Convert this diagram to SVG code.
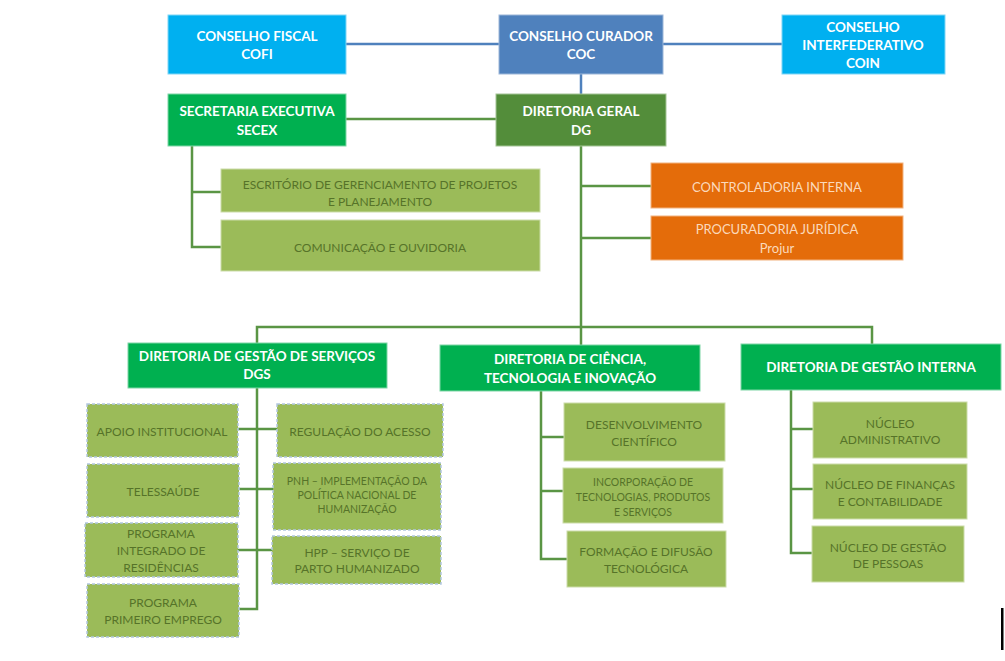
<svg xmlns="http://www.w3.org/2000/svg" width="1005" height="661" viewBox="0 0 1005 661">
<style>
text{font-family:Lato,"Open Sans","Liberation Sans",sans-serif;text-anchor:middle;dominant-baseline:central}
.hd{font-weight:bold;font-size:13.5px;fill:#ffffff}
.lt{font-size:12px;fill:#567329}
.sm{font-size:10.5px;fill:#567329}
.or{font-size:13px;fill:#fbd9bb}
.blue{fill:#00b0f0;stroke:#7fd6f6;stroke-width:1}
.coc{fill:#4f81bd;stroke:#9cb6d8;stroke-width:1}
.g1{fill:#00b050;stroke:#7fd6a6;stroke-width:1}
.g2{fill:#538d3a;stroke:#a4c495;stroke-width:1}
.lg{fill:#9bbb59;stroke:#cbdca9;stroke-width:1}
.lgd{fill:#9bbb59;stroke:#b3c8e0;stroke-width:1.5;stroke-dasharray:3 2}
.orb{fill:#e46c0a;stroke:#f2b27f;stroke-width:1}
.cb{stroke:#4f81bd;stroke-width:2.5;fill:none}
.cg{stroke:#5a9544;stroke-width:2.5;fill:none}
</style>
<rect width="1005" height="661" fill="#ffffff"/>
<g id="connectors">
<line class="cb" x1="346" y1="44" x2="499" y2="44"/>
<line class="cb" x1="663" y1="44" x2="782" y2="44"/>
<line class="cb" x1="581" y1="74" x2="581" y2="94"/>
<line class="cg" x1="346" y1="119" x2="496" y2="119"/>
<polyline class="cg" points="192,146 192,247 221,247"/>
<line class="cg" x1="192" y1="192" x2="221" y2="192"/>
<line class="cg" x1="581" y1="146" x2="581" y2="328"/>
<line class="cg" x1="581" y1="186" x2="651" y2="186"/>
<line class="cg" x1="581" y1="238" x2="651" y2="238"/>
<polyline class="cg" points="257,343 257,327 872,327 872,344"/>
<line class="cg" x1="581" y1="327" x2="581" y2="345"/>
<polyline class="cg" points="257,388 257,609 239,609"/>
<line class="cg" x1="238" y1="429" x2="277" y2="429"/>
<line class="cg" x1="239" y1="489" x2="273" y2="489"/>
<line class="cg" x1="238" y1="550" x2="272" y2="550"/>
<polyline class="cg" points="541,391 541,559 567,559"/>
<line class="cg" x1="541" y1="437" x2="564" y2="437"/>
<line class="cg" x1="541" y1="491" x2="563" y2="491"/>
<polyline class="cg" points="791,390 791,553 812,553"/>
<line class="cg" x1="791" y1="429" x2="813" y2="429"/>
<line class="cg" x1="791" y1="489" x2="813" y2="489"/>
</g>
<g id="cofi"><rect class="blue" x="168" y="15" width="178" height="59"/><text class="hd" x="257" y="36">CONSELHO FISCAL</text><text class="hd" x="257" y="54">COFI</text></g>
<g id="coc"><rect class="coc" x="499" y="15" width="164" height="59"/><text class="hd" x="581" y="36">CONSELHO CURADOR</text><text class="hd" x="581" y="54">COC</text></g>
<g id="coin"><rect class="blue" x="782" y="15" width="163" height="59"/><text class="hd" x="863" y="27">CONSELHO</text><text class="hd" x="863" y="45">INTERFEDERATIVO</text><text class="hd" x="863" y="63">COIN</text></g>
<g id="secex"><rect class="g1" x="168" y="94" width="178" height="52"/><text class="hd" x="257" y="111">SECRETARIA EXECUTIVA</text><text class="hd" x="257" y="130">SECEX</text></g>
<g id="dg"><rect class="g2" x="496" y="94" width="170" height="52"/><text class="hd" x="581" y="111">DIRETORIA GERAL</text><text class="hd" x="581" y="130">DG</text></g>
<g id="escritorio"><rect class="lg" x="221" y="169" width="319" height="43"/><text class="lt" x="380" y="184">ESCRITÓRIO DE GERENCIAMENTO DE PROJETOS</text><text class="lt" x="380" y="201">E PLANEJAMENTO</text></g>
<g id="comunicacao"><rect class="lg" x="221" y="220" width="319" height="51"/><text class="lt" x="380" y="247">COMUNICAÇÃO E OUVIDORIA</text></g>
<g id="controladoria"><rect class="orb" x="651" y="163" width="252" height="45"/><text class="or" x="777" y="187">CONTROLADORIA INTERNA</text></g>
<g id="procuradoria"><rect class="orb" x="651" y="216" width="252" height="44"/><text class="or" x="777" y="229">PROCURADORIA JURÍDICA</text><text class="or" x="777" y="248">Projur</text></g>
<g id="dgs"><rect class="g1" x="128" y="343" width="259" height="45"/><text class="hd" x="257" y="356">DIRETORIA DE GESTÃO DE SERVIÇOS</text><text class="hd" x="257" y="374">DGS</text></g>
<g id="apoio"><rect class="lgd" x="87" y="404" width="151" height="53"/><text class="lt" x="162" y="431">APOIO INSTITUCIONAL</text></g>
<g id="regulacao"><rect class="lgd" x="277" y="404" width="166" height="53"/><text class="lt" x="360" y="431">REGULAÇÃO DO ACESSO</text></g>
<g id="telessaude"><rect class="lgd" x="87" y="464" width="152" height="53"/><text class="lt" x="163" y="491">TELESSAÚDE</text></g>
<g id="pnh"><rect class="lgd" x="273" y="463" width="168" height="67"/><text class="sm" x="357" y="481">PNH –  IMPLEMENTAÇÃO DA</text><text class="sm" x="357" y="495">POLÍTICA NACIONAL DE</text><text class="sm" x="357" y="509">HUMANIZAÇÃO</text></g>
<g id="residencias"><rect class="lgd" x="85" y="523" width="153" height="54"/><text class="lt" x="161" y="533">PROGRAMA</text><text class="lt" x="161" y="550">INTEGRADO DE</text><text class="lt" x="161" y="567">RESIDÊNCIAS</text></g>
<g id="hpp"><rect class="lgd" x="272" y="536" width="169" height="48"/><text class="lt" x="357" y="552">HPP – SERVIÇO DE</text><text class="lt" x="357" y="568">PARTO HUMANIZADO</text></g>
<g id="primeiro"><rect class="lgd" x="87" y="584" width="152" height="53"/><text class="lt" x="163" y="602">PROGRAMA</text><text class="lt" x="163" y="619">PRIMEIRO EMPREGO</text></g>
<g id="cti"><rect class="g1" x="440" y="345" width="260" height="46"/><text class="hd" x="570" y="359">DIRETORIA DE CIÊNCIA,</text><text class="hd" x="570" y="378">TECNOLOGIA E INOVAÇÃO</text></g>
<g id="desenvolvimento"><rect class="lg" x="564" y="403" width="161" height="58"/><text class="lt" x="644" y="424">DESENVOLVIMENTO</text><text class="lt" x="644" y="441">CIENTÍFICO</text></g>
<g id="incorporacao"><rect class="lg" x="563" y="468" width="160" height="55"/><text class="sm" x="643" y="482">INCORPORAÇÃO DE</text><text class="sm" x="643" y="497">TECNOLOGIAS,  PRODUTOS</text><text class="sm" x="643" y="512">E SERVIÇOS</text></g>
<g id="formacao"><rect class="lg" x="567" y="531" width="159" height="56"/><text class="lt" x="646" y="551">FORMAÇÃO E DIFUSÃO</text><text class="lt" x="646" y="568">TECNOLÓGICA</text></g>
<g id="dgi"><rect class="g1" x="741" y="344" width="260" height="46"/><text class="hd" x="871" y="367">DIRETORIA DE GESTÃO INTERNA</text></g>
<g id="nucleo-adm"><rect class="lg" x="813" y="402" width="154" height="56"/><text class="lt" x="890" y="423">NÚCLEO</text><text class="lt" x="890" y="439">ADMINISTRATIVO</text></g>
<g id="nucleo-fin"><rect class="lg" x="813" y="464" width="154" height="55"/><text class="lt" x="890" y="484">NÚCLEO DE FINANÇAS</text><text class="lt" x="890" y="501">E CONTABILIDADE</text></g>
<g id="nucleo-pes"><rect class="lg" x="812" y="526" width="152" height="56"/><text class="lt" x="888" y="547">NÚCLEO DE GESTÃO</text><text class="lt" x="888" y="563">DE PESSOAS</text></g>
<rect x="1001" y="608" width="2.5" height="42" fill="#000000"/>
</svg>
